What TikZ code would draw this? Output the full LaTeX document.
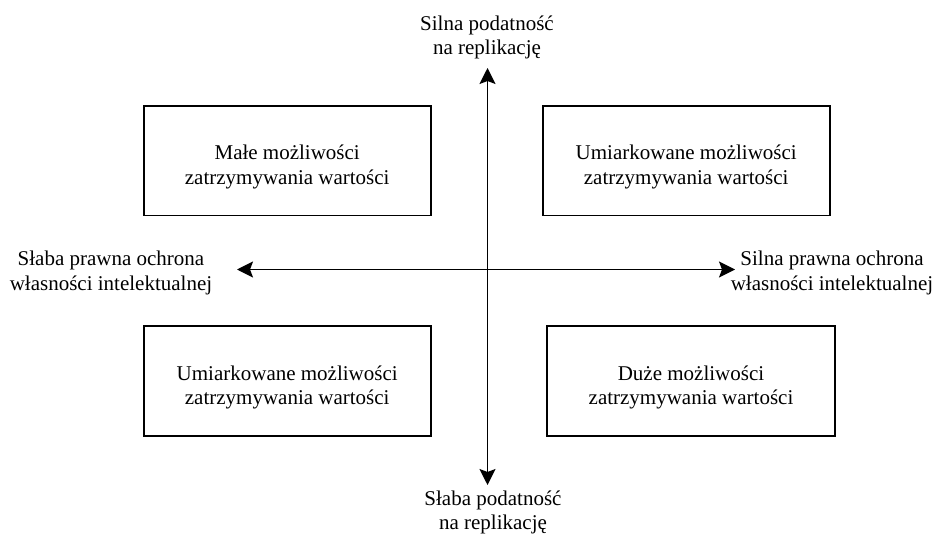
\documentclass[tikz,border=0pt]{standalone}
\usepackage{fontspec}
\setmainfont{Liberation Serif}
\usetikzlibrary{arrows.meta}
\begin{document}
\begin{tikzpicture}[x=1pt,y=-1pt,
  box/.style={draw, line width=1.6pt, minimum width=287pt, minimum height=109.7pt, inner sep=0pt},
  lbl/.style={align=center, font=\fontsize{21}{24.5}\selectfont, inner sep=0pt},
  axis/.style={line width=1.6pt, {Stealth[length=16pt,width=16pt,inset=3pt]}-{Stealth[length=16pt,width=16pt,inset=3pt]}}
]
\useasboundingbox (0,0) rectangle (941,534);
% boxes
\node[box] (tl) at (287.2,160.8) {};
\node[box] (tr) at (686.2,160.8) {};
\node[box] (bl) at (287.2,381) {};
\node[box, minimum width=288pt] (br) at (691,381) {};
\node[lbl] (tlt) at (287.2,167.1) {Małe możliwości\\zatrzymywania wartości};
\node[lbl] (trt) at (686.2,167.1) {Umiarkowane możliwości\\zatrzymywania wartości};
\node[lbl] (blt) at (287.2,387.3) {Umiarkowane możliwości\\zatrzymywania wartości};
\node[lbl] (brt) at (691,387.3) {Duże możliwości\\zatrzymywania wartości};
% axis labels
\node[lbl] (top) at (487,37.5) {Silna podatność\\na replikację};
\node[lbl] (bot) at (493,512.5) {Słaba podatność\\na replikację};
\node[lbl] (lft) at (111,273) {Słaba prawna ochrona\\własności intelektualnej};
\node[lbl] (rgt) at (832,273) {Silna prawna ochrona\\własności intelektualnej};
% axes
\coordinate (vt) at (487.5,68);
\coordinate (vb) at (487.5,485);
\coordinate (hl) at (237,269.5);
\coordinate (hr) at (735,269.5);
\draw[axis] (vb) -- (vt);
\draw[axis] (hl) -- (hr);
\end{tikzpicture}
\end{document}
